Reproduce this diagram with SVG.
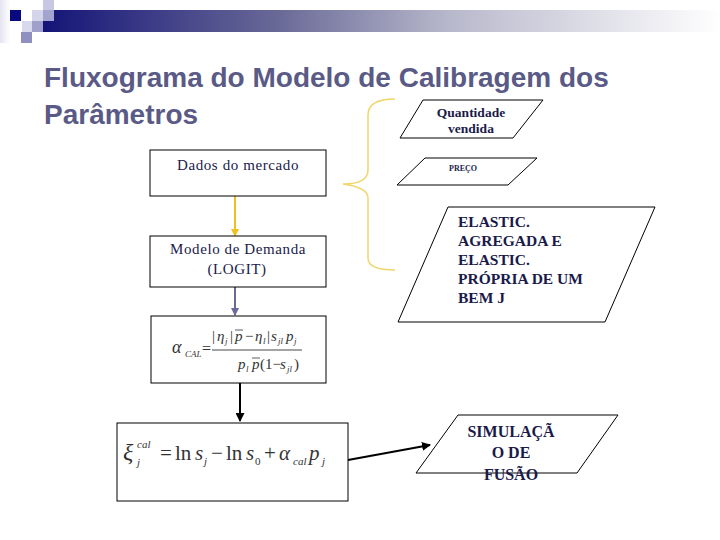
<svg xmlns="http://www.w3.org/2000/svg" width="720" height="540" viewBox="0 0 720 540">
<defs>
<linearGradient id="bar" x1="0" y1="0" x2="1" y2="0">
<stop offset="0" stop-color="#141478"/>
<stop offset="0.35" stop-color="#6a6a98"/>
<stop offset="0.6" stop-color="#b8b8cc"/>
<stop offset="1" stop-color="#ffffff"/>
</linearGradient>
<linearGradient id="side" x1="0" y1="0" x2="1" y2="0">
<stop offset="0" stop-color="#e4e4f2"/>
<stop offset="1" stop-color="#ffffff"/>
</linearGradient>
<marker id="ahY" markerWidth="8" markerHeight="8" refX="7" refY="4" orient="auto" markerUnits="userSpaceOnUse"><path d="M0,0 L8,4 L0,8 Z" fill="#f0c020"/></marker>
<marker id="ahP" markerWidth="8" markerHeight="8" refX="7" refY="4" orient="auto" markerUnits="userSpaceOnUse"><path d="M0,0 L8,4 L0,8 Z" fill="#6a6a9a"/></marker>
<marker id="ahK" markerWidth="9" markerHeight="9" refX="8" refY="4.5" orient="auto" markerUnits="userSpaceOnUse"><path d="M0,0 L9,4.5 L0,9 Z" fill="#000"/></marker>
</defs>
<style>
.box{fill:#fff;stroke:#000;stroke-width:1}
.lbl{font-family:"Liberation Serif",serif;fill:#1a1a4a}
.b{font-weight:bold}
.math{font-family:"Liberation Serif",serif;fill:#333;font-style:italic}
.up{font-style:normal}
.title{font-family:"Liberation Sans",Arial,sans-serif;font-weight:bold;font-size:28px;fill:#5a5a86}
</style>
<rect width="720" height="540" fill="#fff"/>
<g id="decor">
<rect x="0" y="0" width="10" height="43" fill="url(#side)"/>
<rect x="43" y="10" width="677" height="22" fill="url(#bar)"/>
<rect x="43" y="0" width="11" height="10" fill="#c8c8e2"/>
<rect x="10" y="10" width="11" height="11" fill="#0a0a80"/>
<rect x="32" y="10" width="11" height="11" fill="#d4d4ea"/>
<rect x="43" y="10" width="11" height="11" fill="#a4a4d0"/>
<rect x="22" y="21" width="10" height="11" fill="#d8d8ee"/>
<rect x="32" y="21" width="11" height="11" fill="#a0a0cc"/>
<rect x="21" y="32" width="11" height="11" fill="#9090c0"/>
</g>
<g id="title">
<text class="title" x="44" y="87">Fluxograma do Modelo de Calibragem dos</text>
<text class="title" x="44" y="124">Parâmetros</text>
</g>
<g id="connectors">
<line x1="235" y1="196" x2="235" y2="236" stroke="#f0c020" stroke-width="2" marker-end="url(#ahY)"/>
<line x1="235" y1="287" x2="235" y2="315" stroke="#6a6a9a" stroke-width="2" marker-end="url(#ahP)"/>
<line x1="240" y1="383" x2="240" y2="421" stroke="#000" stroke-width="2" marker-end="url(#ahK)"/>
<line x1="348" y1="460" x2="430" y2="445" stroke="#000" stroke-width="2" marker-end="url(#ahK)"/>
<path d="M395,99 C378,99 368,104 368,115 L368,170 C368,180 358,184 343,184 C358,186 368,190 368,198 L368,258 C368,266 378,270 395,270" fill="none" stroke="#f0d66a" stroke-width="1.5"/>
</g>
<g id="dados">
<rect class="box" x="150" y="150" width="176" height="46"/>
<text class="lbl" x="238" y="170" font-size="15" text-anchor="middle" letter-spacing="0.6">Dados do mercado</text>
</g>
<g id="modelo">
<rect class="box" x="150" y="236" width="176" height="51"/>
<text class="lbl" x="238" y="254" font-size="15" text-anchor="middle" letter-spacing="0.6">Modelo de Demanda</text>
<text class="lbl" x="237" y="274" font-size="15" text-anchor="middle" letter-spacing="0.6">(LOGIT)</text>
</g>
<g id="formula1">
<rect class="box" x="151" y="316" width="175" height="67"/>
<text class="math" font-size="18"><tspan x="172" y="353">α</tspan><tspan x="185" y="357" font-size="9">CAL</tspan></text>
<text class="math up" x="202" y="354" font-size="16">=</text>
<line x1="212" y1="350" x2="302" y2="350" stroke="#333" stroke-width="0.9"/>
<text class="math" font-size="15"><tspan class="up" x="212" y="341">|</tspan><tspan x="217" y="341">η</tspan><tspan x="225" y="344" font-size="9">j</tspan><tspan class="up" x="230" y="341">|</tspan><tspan x="235" y="341">p</tspan><tspan class="up" x="245" y="341">−</tspan><tspan x="255" y="341">η</tspan><tspan x="263" y="344" font-size="9">l</tspan><tspan class="up" x="267" y="341">|</tspan><tspan x="271" y="341">s</tspan><tspan x="278" y="344" font-size="9">jl</tspan><tspan x="286" y="341">p</tspan><tspan x="294" y="344" font-size="9">j</tspan></text>
<line x1="235" y1="330" x2="243" y2="330" stroke="#333" stroke-width="0.8"/>
<text class="math" font-size="15"><tspan x="238" y="369">p</tspan><tspan x="246" y="372" font-size="9">l</tspan><tspan x="252" y="369">p</tspan><tspan class="up" x="260" y="369">(1−</tspan><tspan x="280" y="369">s</tspan><tspan x="287" y="372" font-size="9">jl</tspan><tspan class="up" x="294" y="369">)</tspan></text>
<line x1="252" y1="358" x2="260" y2="358" stroke="#333" stroke-width="0.8"/>
</g>
<g id="formula2">
<rect class="box" x="117" y="423" width="231" height="78"/>
<text class="math" font-size="21"><tspan x="123" y="460" font-size="24">ξ</tspan><tspan x="137" y="448" font-size="11">cal</tspan><tspan x="137" y="466" font-size="11">j</tspan><tspan class="up" x="160" y="460">=</tspan><tspan class="up" x="175" y="460">ln</tspan><tspan x="195" y="460">s</tspan><tspan x="204" y="465" font-size="11">j</tspan><tspan class="up" x="211" y="460">−</tspan><tspan class="up" x="226" y="460">ln</tspan><tspan x="246" y="460">s</tspan><tspan class="up" x="255" y="465" font-size="11">0</tspan><tspan class="up" x="264" y="460">+</tspan><tspan x="279" y="460">α</tspan><tspan x="293" y="465" font-size="11">cal</tspan><tspan x="309" y="460">p</tspan><tspan x="322" y="465" font-size="11">j</tspan></text>
</g>
<g id="quantidade">
<polygon class="box" points="423,100 543,100 513,138 400,138"/>
<text class="lbl b" x="471" y="117" font-size="13.5" text-anchor="middle">Quantidade</text>
<text class="lbl b" x="471" y="133" font-size="13.5" text-anchor="middle">vendida</text>
</g>
<g id="preco">
<polygon class="box" points="425,158 537,158 508,185 397,185"/>
<text class="lbl b" x="463" y="171" font-size="8" text-anchor="middle">PREÇO</text>
</g>
<g id="elastic">
<polygon class="box" points="448,207 655,207 605,322 398,322"/>
<text class="lbl b" font-size="15.5"><tspan x="458" y="227">ELASTIC.</tspan><tspan x="458" y="246">AGREGADA  E</tspan><tspan x="458" y="265">ELASTIC.</tspan><tspan x="458" y="284">PRÓPRIA DE UM</tspan><tspan x="458" y="303">BEM J</tspan></text>
</g>
<g id="simulacao">
<polygon class="box" points="458,415 618,415 577,473 416,473"/>
<text class="lbl b" font-size="16" text-anchor="middle"><tspan x="511" y="437">SIMULAÇÃ</tspan><tspan x="511" y="458">O DE</tspan><tspan x="511" y="480">FUSÃO</tspan></text>
</g>
</svg>
